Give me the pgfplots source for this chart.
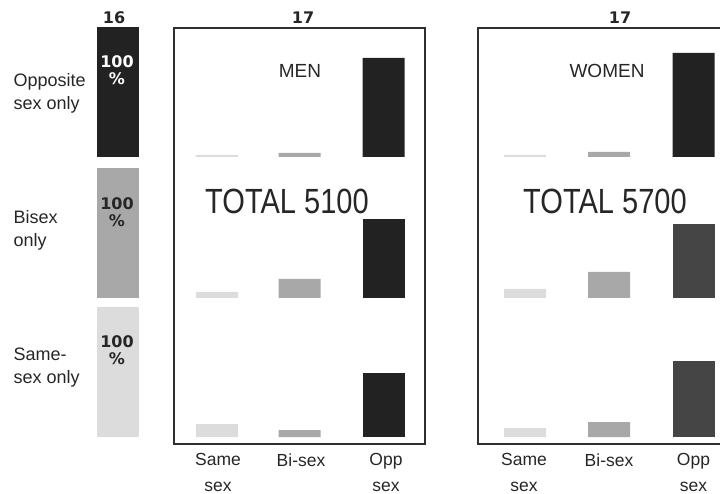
\documentclass[border=0pt]{standalone}
\usepackage{pgfplots}
\pgfplotsset{compat=1.18}
\usepackage{graphicx}
\usepackage{fontspec}
\setmainfont{Liberation Sans}
\newfontfamily\numfont{DejaVu Sans}
\definecolor{cdark}{HTML}{222222}
\definecolor{cwdark}{HTML}{454545}
\definecolor{cmed}{HTML}{A8A8A8}
\definecolor{clight}{HTML}{DCDCDC}
\definecolor{cframe}{HTML}{2E2E2E}
\definecolor{ctext}{HTML}{262626}
\pgfplotsset{
  rowax/.style={x=1pt, y=1pt, xmin=0, xmax=720, ymin=0, ymax=135,
    hide axis, anchor=south west, clip=false},
  bb/.style={ybar, bar width=42, bar shift=0pt, draw=none},
  frameax/.style={x=1pt, y=1pt, ymin=0, ymax=416, anchor=south west,
    axis line style={line width=1.5pt, color=cframe},
    ytick=\empty, major tick length=0pt,
    xtick style={draw=none},
    xticklabel style={align=center, text=ctext,
      font=\fontsize{17.5}{25.5}\selectfont, yshift=-6pt}},
}
\begin{document}
\begin{tikzpicture}
% ---------- panel frames ----------
\begin{axis}[frameax, at={(174pt,-444pt)}, xmin=174, xmax=425,
  xtick={218,301,386}, xticklabels={Same\\sex,Bi-sex,Opp\\sex}]
\addplot[draw=none] coordinates {(200,10)};
\end{axis}
\begin{axis}[frameax, at={(478pt,-444pt)}, xmin=478, xmax=726,
  xtick={524,609,693.5}, xticklabels={Same\\sex,Bi-sex,Opp\\sex}]
\addplot[draw=none] coordinates {(500,10)};
\end{axis}
% ---------- row 1: opposite sex only ----------
\begin{axis}[rowax, at={(0pt,-157pt)}]
\addplot[bb, fill=cdark] coordinates {(118,130)};
\addplot[bb, fill=clight] coordinates {(217,2) (525,2)};
\addplot[bb, fill=cmed] coordinates {(299.5,4) (609,5)};
\addplot[bb, fill=cdark] coordinates {(383.5,99) (693.5,104)};
\end{axis}
% ---------- row 2: bisex only ----------
\begin{axis}[rowax, at={(0pt,-298pt)}]
\addplot[bb, fill=cmed] coordinates {(118,130)};
\addplot[bb, fill=clight] coordinates {(217,6) (525,9)};
\addplot[bb, fill=cmed] coordinates {(299.5,19) (609,26)};
\addplot[bb, fill=cdark] coordinates {(383.5,79)};
\addplot[bb, fill=cwdark] coordinates {(693.5,74)};
\end{axis}
% ---------- row 3: same-sex only ----------
\begin{axis}[rowax, at={(0pt,-437pt)}]
\addplot[bb, fill=clight] coordinates {(118,130)};
\addplot[bb, fill=clight] coordinates {(217,13) (525,9)};
\addplot[bb, fill=cmed] coordinates {(299.5,7) (609,15)};
\addplot[bb, fill=cdark] coordinates {(383.5,64)};
\addplot[bb, fill=cwdark] coordinates {(693.5,76)};
\end{axis}
% ---------- texts ----------
\begin{scope}[every node/.style={text=ctext}]
\node[anchor=west, align=left, font=\fontsize{18}{23}\selectfont] at (10pt,-93pt) {Opposite\\sex only};
\node[anchor=west, align=left, font=\fontsize{18}{23}\selectfont] at (10pt,-230pt) {Bisex\\only};
\node[anchor=west, align=left, font=\fontsize{18}{23}\selectfont] at (10pt,-368pt) {Same-\\sex only};
\node[font=\numfont\bfseries\fontsize{16}{18}\selectfont] at (114pt,-18pt) {16};
\node[font=\numfont\bfseries\fontsize{16}{18}\selectfont] at (303pt,-18pt) {17};
\node[font=\numfont\bfseries\fontsize{16}{18}\selectfont] at (620pt,-18pt) {17};
\node[font=\fontsize{19}{22}\selectfont] at (300pt,-71pt) {MEN};
\node[font=\fontsize{19}{22}\selectfont] at (607pt,-71pt) {WOMEN};
\node[font=\fontsize{35}{40}\selectfont] at (287pt,-201pt) {\scalebox{0.83}[1]{TOTAL 5100}};
\node[font=\fontsize{35}{40}\selectfont] at (605pt,-201pt) {\scalebox{0.83}[1]{TOTAL 5700}};
\end{scope}
\node[align=center, text=white, font=\numfont\bfseries\fontsize{16}{17}\selectfont] at (117pt,-70pt) {100\\\%};
\node[align=center, text=ctext, font=\numfont\bfseries\fontsize{16}{17}\selectfont] at (117pt,-212pt) {100\\\%};
\node[align=center, text=ctext, font=\numfont\bfseries\fontsize{16}{17}\selectfont] at (117pt,-350pt) {100\\\%};
\pgfresetboundingbox
\path[use as bounding box] (0,0) rectangle (720pt,-494pt);
\end{tikzpicture}
\end{document}
